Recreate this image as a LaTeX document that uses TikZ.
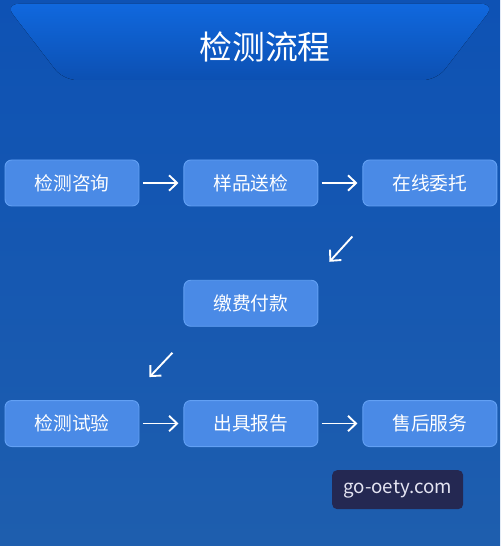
\documentclass[tikz,border=0pt]{standalone}
\usepackage{fontspec}
\setmainfont{Noto Sans CJK SC}
\usetikzlibrary{positioning,arrows.meta}
\definecolor{bgtop}{RGB}{14,82,180}
\definecolor{bgbottom}{RGB}{30,94,174}
\definecolor{bannertop}{RGB}{16,104,222}
\definecolor{bannerbottom}{RGB}{12,80,178}
\definecolor{stagefill}{RGB}{74,138,230}
\definecolor{stageline}{RGB}{98,160,244}
\definecolor{sitefill}{RGB}{36,40,82}
\definecolor{sitetext}{RGB}{228,228,242}

\begin{document}
\begin{tikzpicture}[thick,
                    >={Straight Barb[length=2.4mm,width=4.6mm]},
                    stage/.style={draw=stageline,fill=stagefill,line width=0.8pt,
                                  rounded corners=2mm,text=white,
                                  font=\fontsize{16}{18}\selectfont,
                                  minimum width=40.2mm,minimum height=13.8mm},
                    flow/.style={->,draw=white,line width=1.6pt}]
  \path[use as bounding box,top color=bgtop,bottom color=bgbottom]
    (0,0) rectangle (15,-16.38);
  \fill[top color=bannertop,bottom color=bannerbottom,rounded corners=4mm]
    (0.15,-0.12) -- (14.85,-0.12) -- (13.1,-2.4) -- (1.9,-2.4) -- cycle;
  \node[text=white,font=\fontsize{28}{32}\selectfont] (title) at (7.95,-1.41) {检测流程};
  \node[stage] (consult) at (2.16,-5.49) {检测咨询};
  \node[stage,right=13.2mm of consult] (sample) {样品送检};
  \node[stage,right=13.2mm of sample] (entrust) {在线委托};
  \node[stage,below=22mm of sample] (payment) {缴费付款};
  \node[stage,below=22mm of payment] (report) {出具报告};
  \node[stage,left=13.2mm of report] (test) {检测试验};
  \node[stage,right=13.2mm of report] (service) {售后服务};
  \draw[flow,shorten <=1mm,shorten >=1.5mm] (consult) -- (sample);
  \draw[flow,shorten <=1mm,shorten >=1.5mm] (sample) -- (entrust);
  \draw[flow] ([shift={(-3mm,-9mm)}]entrust.south west)
           -- ([shift={(3.3mm,5.4mm)}]payment.north east);
  \draw[flow] ([shift={(-3.3mm,-7.8mm)}]payment.south west)
           -- ([shift={(3mm,6.9mm)}]test.north east);
  \draw[flow,shorten <=1mm,shorten >=1.5mm] (test) -- (report);
  \draw[flow,shorten <=1mm,shorten >=1.5mm] (report) -- (service);
  \node[fill=sitefill,text=sitetext,rounded corners=1.5mm,
        minimum width=39.3mm,minimum height=11.7mm,
        font=\fontsize{16}{18}\selectfont] (site) at (11.93,-14.69) {go-oety.com};
\end{tikzpicture}
\end{document}
